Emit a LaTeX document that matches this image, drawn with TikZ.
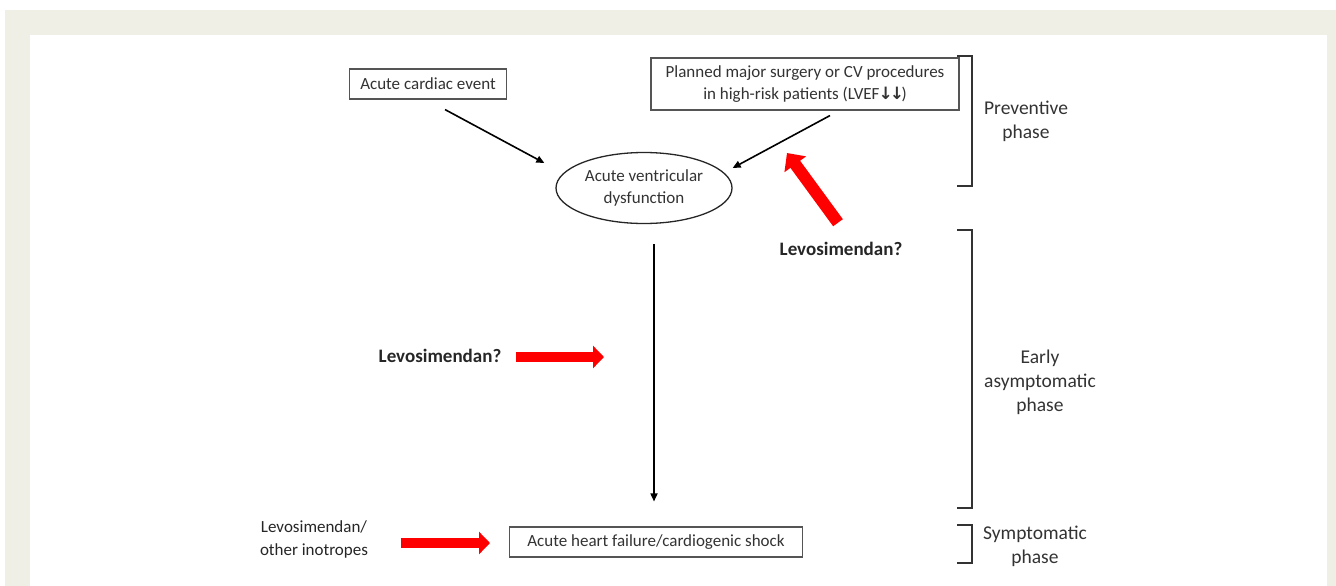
\documentclass[tikz,border=0pt]{standalone}
\usepackage{fontspec}
\setmainfont{Carlito}
\newfontfamily\arrowfont{DejaVu Sans}
\usetikzlibrary{arrows.meta,shapes.geometric,calc,positioning}
\definecolor{panelbg}{HTML}{EFEFE6}
\definecolor{inktext}{HTML}{333333}
\definecolor{boxline}{HTML}{555555}
\definecolor{levored}{HTML}{FF0000}
\begin{document}
\begin{tikzpicture}[x=1pt,y=-1pt]
\tikzset{
    stagebox/.style={
       draw=boxline, line width=1.1pt, inner sep=0pt,
       text=inktext, align=center,
       font=\fontsize{17}{22}\selectfont
    },
    stageoval/.style={
       ellipse, draw=black!85, line width=1.3pt, inner sep=0pt,
       minimum width=176pt, minimum height=71pt,
       text=inktext, align=center,
       font=\fontsize{17}{22}\selectfont
    },
    phasetext/.style={
       text=inktext, align=center,
       font=\fontsize{19.5}{24}\selectfont
    },
    drugtext/.style={
       text=black!85, align=center,
       font=\fontsize{19}{23}\selectfont
    },
    flow/.style={
       draw=black, line width=1.6pt,
       -{Triangle[length=8pt,width=7pt]}
    },
    drug/.style={
       draw=levored, line width=10pt,
       -{Triangle[length=11pt,width=22pt]}
    },
    phasebrace/.style={draw=black!80, line width=1.6pt}
}
%
\useasboundingbox (0,0) rectangle (1336,586);
\fill[white] (0,0) rectangle (1336,586);
\fill[panelbg] (5,10) rectangle (1336,586);
\fill[white] (30,35) rectangle (1327,586);

% stages
\node[stagebox, minimum width=157pt, minimum height=30pt] (cardiac) at (428,84) {Acute cardiac event};
\node[stagebox, minimum width=308pt, minimum height=52pt] (surgery) at (805,84)
   {Planned major surgery or CV procedures\\in high-risk patients (LVEF{\arrowfont\bfseries\kern-1pt↓\kern-3pt↓\kern-2.5pt})};
\node[stageoval] (avd) at (644,188) {Acute ventricular\\dysfunction};
\node[stagebox, minimum width=293pt, minimum height=30pt] (ahf) at (656,542) {Acute heart failure/cardiogenic shock};

% therapies
\node[drugtext] (levoTop) at (841,249) {\textbf{Levosimendan?}};
\node[drugtext] (levoMid) at (440,356) {\textbf{Levosimendan?}};
\node[drugtext, font=\fontsize{17}{23}\selectfont] (levoLow) at (314,539) {Levosimendan/\\other inotropes};

% phases
\node[phasetext] (prevent) at (1026,121) {Preventive\\phase};
\node[phasetext] (early) at (1040,382) {Early\\asymptomatic\\phase};
\node[phasetext] (sympt) at (1035,546) {Symptomatic\\phase};

\draw[phasebrace] (957,56) -- (972,56) -- (972,186) -- (957,186);
\draw[phasebrace] (957,230) -- (972,230) -- (972,508) -- (957,508);
\draw[phasebrace] (957,525) -- (972,525) -- (972,563) -- (957,563);

% black flow
\draw[flow] ($(cardiac.south)+(17,10)$) -- ($(avd.west)+(-11,-25)$);
\draw[flow] ($(surgery.south)+(25,5)$) -- ($(avd.east)+(0,-20)$);
\draw[flow] ($(avd.south)+(10,20)$) -- ($(ahf.north)+(-2,-25)$);

% red arrows
\coordinate (tipTop) at (787,153);
\coordinate (tipMid) at (604,357);
\coordinate (tipLow) at (490,543);
\draw[drug, line width=12pt, -{Triangle[length=14pt,width=26pt]}] ($(levoTop.north)+(-3,-16)$) -- (tipTop);
\draw[drug] ($(levoMid.east)+(11,1)$) -- (tipMid);
\draw[drug] ($(levoLow.east)+(29,4)$) -- (tipLow);
\end{tikzpicture}
\end{document}
